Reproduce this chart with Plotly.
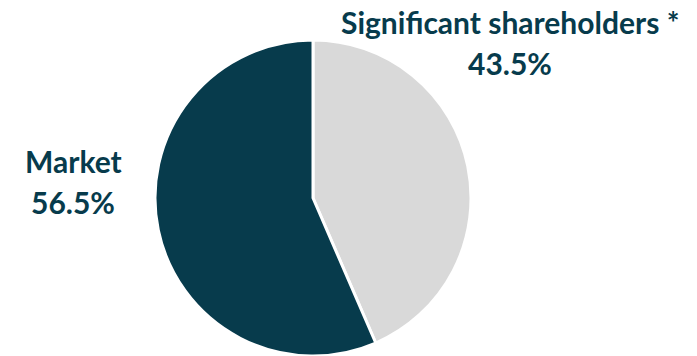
import plotly.graph_objects as go

# Shareholder structure
labels = ["Significant shareholders *", "Market"]
values = [43.5, 56.5]
colors = ["#D9D9D9", "#073B4C"]

W, H = 697, 356
TEXT_COLOR = "#073B4C"
FONT = "Lato"
FONT_SIZE = 30

fig = go.Figure(
    go.Pie(
        labels=labels,
        values=values,
        sort=False,
        direction="clockwise",
        rotation=0,
        marker=dict(colors=colors, line=dict(color="white", width=3)),
        textinfo="none",
        hoverinfo="label+percent",
        domain=dict(x=[155 / W, 471 / W], y=[0, 316 / H]),
    )
)

# Slice label placement: (center x, name line y, value line y) in pixels
label_pos = {
    "Significant shareholders *": (510, 22, 63),
    "Market": (73, 161, 202),
}


def add_text(text, px, py):
    fig.add_annotation(
        x=px / W,
        y=1 - py / H,
        xref="paper",
        yref="paper",
        xanchor="center",
        yanchor="middle",
        text=text,
        showarrow=False,
        font=dict(family=FONT, size=FONT_SIZE, color=TEXT_COLOR, weight="bold"),
    )


for lab, val in zip(labels, values):
    px, py_name, py_val = label_pos[lab]
    add_text(lab, px, py_name)
    add_text(f"{val:.1f}%", px, py_val)

fig.update_layout(
    width=W,
    height=H,
    margin=dict(l=0, r=0, t=0, b=0),
    paper_bgcolor="white",
    plot_bgcolor="white",
    showlegend=False,
)

fig.write_html("out.html")
